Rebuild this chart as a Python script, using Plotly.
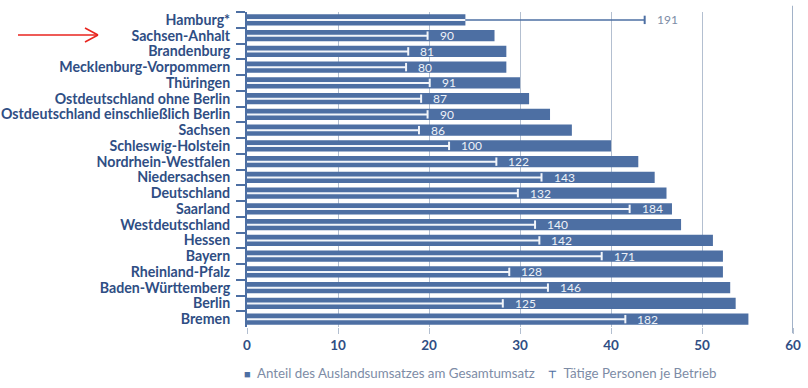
import plotly.graph_objects as go

regions = ["Hamburg*", "Sachsen-Anhalt", "Brandenburg", "Mecklenburg-Vorpommern", "Thüringen",
           "Ostdeutschland ohne Berlin", "Ostdeutschland einschließlich Berlin", "Sachsen",
           "Schleswig-Holstein", "Nordrhein-Westfalen", "Niedersachsen", "Deutschland", "Saarland",
           "Westdeutschland", "Hessen", "Bayern", "Rheinland-Pfalz", "Baden-Württemberg", "Berlin", "Bremen"]
export_share = [24.0, 27.2, 28.5, 28.5, 30.0, 31.0, 33.3, 35.7, 40.0, 43.0,
                44.8, 46.1, 46.7, 47.7, 51.2, 52.3, 52.3, 53.1, 53.7, 55.1]
persons = [191, 90, 81, 80, 91, 87, 90, 86, 100, 122,
           143, 132, 184, 140, 142, 171, 128, 146, 125, 182]
x_ticks = [0, 10, 20, 30, 40, 50, 60]

SHARE_MAX = 60
P_MIN, P_MAX = 6, 260

BAR = "#4d6fa3"
DARK = "#2f4e84"
GRID = "#b3bfd0"
LEG = "#7d8ca6"
FONT = "Lato"

W, H = 808, 388
L, R, T, B = 247, 15, 12, 61

# bar end expressed in person-axis units (for clipping the white line inside the bar)
bar_in_p = [P_MIN + s / SHARE_MAX * (P_MAX - P_MIN) for s in export_share]
inside_end = [min(p, b) for p, b in zip(persons, bar_in_p)]
outside = [p > b for p, b in zip(persons, bar_in_p)]

fig = go.Figure()
fig.add_trace(go.Bar(
    y=regions, x=export_share, orientation="h", marker=dict(color=BAR, line=dict(width=0)),
    xaxis="x", yaxis="y", showlegend=False, hoverinfo="skip"))

# white part of the line (inside the bar)
fig.add_trace(go.Scatter(
    y=regions, x=[P_MIN] * len(regions), mode="markers", marker=dict(size=1, opacity=0),
    error_x=dict(type="data", symmetric=False, array=[e - P_MIN for e in inside_end],
                 arrayminus=[0] * len(regions), color="#f2f5fa", thickness=2, width=0),
    xaxis="x2", yaxis="y", showlegend=False, hoverinfo="skip"))

# blue part of the line (outside the bar)
fig.add_trace(go.Scatter(
    y=regions, x=bar_in_p, mode="markers", marker=dict(size=1, opacity=0),
    error_x=dict(type="data", symmetric=False, array=[max(p - b, 0) for p, b in zip(persons, bar_in_p)],
                 arrayminus=[0] * len(regions), color=BAR, thickness=1.5, width=0),
    xaxis="x2", yaxis="y", showlegend=False, hoverinfo="skip"))

# end caps
fig.add_trace(go.Scatter(
    y=regions, x=persons, mode="markers",
    marker=dict(symbol="line-ns", size=6,
                line=dict(width=2, color=[BAR if o else "#f2f5fa" for o in outside])),
    xaxis="x2", yaxis="y", showlegend=False, hoverinfo="skip"))

for r, p, o in zip(regions, persons, outside):
    fig.add_annotation(x=p, y=r, xref="x2", yref="y", text=str(p), showarrow=False,
                       xanchor="left", xshift=10, yshift=0,
                       font=dict(family=FONT, size=12, color=LEG if o else "#eef2f8"))

def px(xp):
    return (xp - L) / (W - L - R)

def py(yp):
    return (H - B - yp) / (H - T - B)

# legend
fig.add_annotation(x=px(242), y=py(373), xref="paper", yref="paper",
                   xanchor="left", yanchor="middle", showarrow=False,
                   text=f"<span style='color:{BAR};font-size:11px'>■</span>  Anteil des Auslandsumsatzes am Gesamtumsatz",
                   font=dict(family=FONT, size=13.3, color=LEG))
fig.add_annotation(x=px(546), y=py(373), xref="paper", yref="paper",
                   xanchor="left", yanchor="middle", showarrow=False,
                   text=f"<span style='color:{BAR};font-size:10px'><b>⊤</b></span>  Tätige Personen je Betrieb",
                   font=dict(family=FONT, size=13.3, color=LEG))

# red arrow
red = "#e8251f"
for (x0, y0, x1, y1) in [(18, 35, 98, 35), (98, 35, 85, 28), (98, 35, 85, 42)]:
    fig.add_shape(type="line", xref="paper", yref="paper", x0=px(x0), y0=py(y0), x1=px(x1), y1=py(y1),
                  line=dict(color=red, width=1.5))

# emphasised outer gridline
fig.add_shape(type="line", xref="x", yref="paper", x0=SHARE_MAX, x1=SHARE_MAX, y0=-0.02, y1=1.02,
              line=dict(color="#a2b2c8", width=2), layer="below")

fig.update_layout(
    width=W, height=H, margin=dict(l=L, r=R, t=T, b=B, autoexpand=False),
    paper_bgcolor="white", plot_bgcolor="white",
    bargap=0.28,
    xaxis=dict(range=[0, SHARE_MAX], tickvals=x_ticks, showgrid=True, gridcolor=GRID, gridwidth=1,
               zeroline=False, showline=False, ticks="outside", ticklen=6, tickcolor=GRID,
               automargin=False,
               tickfont=dict(family=FONT, size=13.5, color=DARK, weight="bold")),
    xaxis2=dict(range=[P_MIN, P_MAX], overlaying="x", side="top", visible=False),
    yaxis=dict(range=[len(regions) - 0.5, -0.5], autorange=False, tickmode="linear", tick0=0, dtick=1,
               tickson="boundaries", ticks="outside", ticklen=9, automargin=False,
               tickcolor=BAR, tickwidth=1.5, showline=True, linecolor=BAR, linewidth=2,
               showgrid=False, ticklabelstandoff=12,
               tickfont=dict(family=FONT, size=14.2, color=DARK, weight="bold")),
)

fig.write_html("out.html")
